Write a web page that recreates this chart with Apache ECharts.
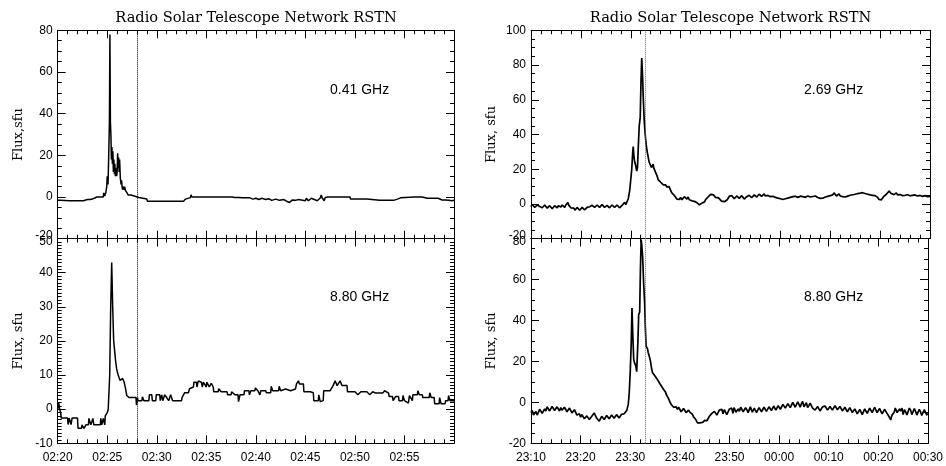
<!DOCTYPE html>
<html><head><meta charset="utf-8">
<script src="https://cdn.jsdelivr.net/npm/echarts/dist/echarts.min.js"></script>
<style>html,body{margin:0;padding:0;background:#fff}#c{width:946px;height:466px}</style>
</head><body><div id="c"></div>
<script>
// ---- DATA (time in minutes from panel start, flux in sfu) ----
const leftStart = 2 * 60 + 20;   // 02:20
const rightStart = 23 * 60 + 10; // 23:10
const leftMarker = 8;            // 02:28
const rightMarker = 23;          // 23:33
const titleText = 'Radio Solar Telescope Network RSTN';
const freqLabels = ['0.41 GHz', '8.80 GHz', '2.69 GHz', '8.80 GHz'];
const yNames = ['Flux,sfu', 'Flux, sfu', 'Flux, sfu', 'Flux, sfu'];

const flux041 = [
[0,-1.5],[0.3,-1.5],[0.35,-0.8],[0.5,-1.8],[1.2,-1.8],[1.25,-1.2],[1.4,-1.8],[2.6,-1.8],[2.65,-1.2],[2.8,-1.8],
[3.0,-1.2],[3.3,-1.2],[3.35,-0.6],[3.5,-1.2],[3.7,-0.6],[3.9,-0.6],[3.95,0],[4.3,0],[4.35,-0.6],[4.5,0],
[4.6,0],[4.65,2],[4.75,0.5],[4.85,2],[4.95,5],[5.0,10],[5.08,6],[5.15,20],[5.22,36],[5.27,78],
[5.32,36],[5.37,30],[5.42,18],[5.47,24],[5.52,16],[5.57,22],[5.62,12],[5.67,18],[5.72,11],[5.77,16],
[5.82,10],[5.9,14],[5.95,10],[6.0,12],[6.05,21],[6.1,14],[6.15,19],[6.2,12],[6.25,18],[6.32,9],
[6.4,6],[6.45,8],[6.5,5],[6.55,3.5],[6.6,5],[6.7,3.5],[6.75,5],[6.85,3],[7.0,2],[7.1,1],
[7.4,1],[7.45,0.4],[7.8,0.4],[7.85,-0.2],[8.2,-0.2],[8.25,-1],[9.0,-1],[9.05,-2],[9.2,-1.5],[9.35,-2],
[12.7,-2],[12.75,-1.2],[12.9,-1],[13.0,-0.3],[13.4,-0.3],[13.45,1],[13.55,0],[15.0,0],[15.05,0.6],[15.15,0],
[15.5,0],[15.55,0.6],[15.65,0],[17.6,0],[17.65,-0.8],[17.8,-0.8],[17.85,-0.2],[18.3,-0.2],[18.35,-1],[18.6,-0.4],
[19.0,-0.4],[19.05,-1],[19.4,-0.4],[19.7,-1],[20.0,-0.6],[20.3,-1.2],[20.6,-0.6],[21.0,-1.2],[21.3,-0.8],[21.6,-1.6],
[22.0,-1],[22.4,-1.6],[22.8,-1.2],[23.1,-2],[23.4,-2.6],[23.7,-1.4],[24.0,-1.6],[24.3,-1.2],[24.5,-1.8],[25.0,-1.8],
[25.1,-0.6],[25.3,-1.8],[25.6,-0.6],[25.8,-0.6],[26.2,-1.8],[26.5,-0.5],[26.6,1],[26.7,-0.5],[26.9,-1.8],[27.0,-0.2],
[27.3,0],[28.0,0],[28.2,0.6],[28.3,0],[29.5,0],[29.55,-1],[30.3,-1],[30.35,-0.5],[30.5,-1],[31.2,-1],
[31.25,-1.6],[32.5,-1.6],[32.55,-1],[32.8,-1.6],[33.9,-1.6],[33.95,-1],[34.3,-1],[34.35,-0.4],[34.6,-0.4],[34.65,0],
[36.0,0],[36.05,0.5],[36.2,0],[36.8,0],[36.85,-0.6],[37.3,-0.6],[37.35,0],[37.8,-0.6],[38.4,-0.6],[38.45,-1.4],
[38.8,-1.4],[38.85,-0.6],[39.1,-1.4],[39.5,-1.6],[39.55,-1],[39.8,-1.8],[40,-1.6]
];

const flux880a = [
[0.0,0],[0.1,2],[0.2,0],[0.3,-1],[0.35,-2.6],[1.0,-2.6],[1.05,-4.5],[1.15,-2.6],[1.3,-2.6],[1.35,-4.5],
[1.45,-2.6],[2.0,-2.6],[2.05,-5.6],[2.4,-5.6],[2.45,-4.6],[2.6,-4.6],[2.65,-5.6],[2.8,-5.6],[2.85,-4.6],[3.1,-4.6],
[3.15,-2.7],[3.3,-2.7],[3.35,-4.6],[3.5,-4.6],[3.55,-2.7],[3.65,-4.6],[4.3,-4.6],[4.35,-2.7],[4.45,-4.6],[4.6,-2.7],
[4.75,-4.6],[4.8,-2],[4.9,-1.5],[5.0,-1],[5.1,0],[5.25,10],[5.35,30],[5.45,43],[5.55,30],[5.65,20],
[5.75,17],[5.85,14],[5.95,11.8],[6.1,10],[6.3,8.4],[6.5,8],[6.55,9],[6.7,8],[6.85,6],[6.97,4],
[7.2,3.4],[7.9,3.4],[7.95,1.2],[8.05,3.4],[8.1,2.5],[8.5,2.5],[8.55,3.6],[8.7,2.5],[9.2,2.5],[9.25,4.2],
[9.5,4.2],[9.55,2.5],[9.9,2.5],[9.95,4.2],[10.3,4.2],[10.35,2.5],[10.5,4.2],[10.6,2.5],[10.8,4.2],[11.0,3.4],
[11.2,2.5],[11.4,4.2],[11.6,2.5],[12.5,2.5],[12.55,3.4],[12.8,4.8],[13.2,4.8],[13.3,6],[13.7,6.5],[13.75,7.9],
[14.0,7.9],[14.05,6.5],[14.2,8.3],[14.5,7.9],[14.6,6.5],[14.7,7.9],[15.0,6.5],[15.05,7.9],[15.3,6.5],[15.5,7.6],
[15.7,6.5],[15.75,5.1],[16.2,5.1],[16.25,6],[16.5,5.1],[17.1,5.1],[17.15,4.2],[17.5,4.2],[17.55,5.1],[17.9,4.2],
[18.2,4.2],[18.25,2.2],[18.4,4.2],[18.8,4.2],[18.85,5.4],[19.3,5.4],[19.35,4.2],[19.5,5.4],[19.9,5.4],[19.95,6.2],
[20.2,5.4],[20.4,4.2],[20.5,5.4],[21.0,5.4],[21.05,4.8],[21.5,4.8],[21.55,6.7],[21.7,5.4],[22.3,5.4],[22.35,6.7],
[22.5,5.4],[23.0,5.9],[23.5,5.4],[24.0,5.9],[24.1,7.4],[24.3,8.3],[24.4,7.4],[24.8,7.4],[24.85,5.1],[25.5,5.1],
[25.8,4.8],[25.85,2.5],[26.3,2.5],[26.35,4.2],[26.5,2.2],[26.8,2.5],[26.85,5.4],[27.5,5.4],[27.8,6.9],[28.0,8.3],
[28.2,6.9],[28.5,8.3],[28.7,6.9],[29.2,6.9],[29.25,5.1],[30.0,5.1],[30.3,4.2],[30.6,5.1],[31.2,5.1],[31.5,4.2],
[31.8,5.1],[32.1,4.7],[32.8,4.7],[33.0,5.4],[33.4,4.7],[33.45,3.7],[33.8,3.7],[33.85,2.5],[34.1,3.7],[34.4,3.7],
[34.45,2.5],[34.8,2.5],[34.85,4],[35.0,2.5],[35.4,1.8],[35.5,4],[35.8,2.5],[35.85,4.2],[36.3,4.2],[36.35,5.4],
[36.5,4.2],[36.8,4.2],[36.85,3.4],[37.5,3.4],[37.55,4.8],[37.7,3.4],[38.0,3.4],[38.05,1.6],[38.5,1.6],[38.55,3.4],
[38.7,1.6],[39.1,1.6],[39.15,2.5],[39.4,2.5],[39.45,4],[39.6,2.5],[40,2.5]
];

const flux269 = [
[0,-1.5],[0.25,-0.2],[0.5,-0.5],[0.75,-2],[1.0,-1.8],[1.25,-0.6],[1.5,0.5],[1.75,-1.4],[2.0,-1],[2.25,-2.2],
[2.5,-1.5],[2.75,-0.6],[3.0,-0.8],[3.25,-2.4],[3.5,-2],[3.75,-1],[4.0,-1.2],[4.25,-2.8],[4.5,-2.3],[4.75,-1],
[5.0,-1.5],[5.25,-2.2],[5.5,-1],[5.75,-2],[6.0,-1.8],[6.25,-0.6],[6.5,-1.2],[6.75,-2],[7.0,-0.5],[7.2,-1.2],
[7.4,0.8],[7.6,-0.8],[7.8,-1.5],[8.0,-2.2],[8.2,-3],[8.4,-2],[8.6,-2.4],[8.8,-3.6],[9.0,-3.2],[9.25,-2],
[9.5,-2.5],[9.75,-3.6],[10.0,-3],[10.25,-2],[10.5,-2.2],[10.75,-3.4],[11.0,-3.1],[11.25,-2],[11.5,-2.6],[11.75,-1.6],
[12.0,-2],[12.25,-0.8],[12.5,-1.2],[12.75,-2],[13.0,-1.6],[13.25,-0.6],[13.5,-0.9],[13.75,-2],[14.0,-1.4],[14.25,-0.4],
[14.5,-1],[14.75,-2],[15.0,-1.7],[15.25,-0.8],[15.5,-1.1],[15.75,-2.2],[16.0,-1.5],[16.25,-0.6],[16.5,-0.8],[16.75,-2],
[17.0,-1.6],[17.25,-0.6],[17.5,-1.2],[17.75,-2.2],[18.0,-1.8],[18.25,-0.8],[18.5,-0.5],[18.8,1],[19.0,-0.4],[19.2,0],
[19.5,3],[19.8,8],[20.0,14],[20.2,20],[20.4,30],[20.5,33],[20.65,27],[20.8,24],[21.0,22],[21.2,19],
[21.35,21],[21.5,32],[21.7,45],[21.9,50],[22.05,70],[22.2,84],[22.35,75],[22.5,62],[22.7,48],[22.9,40],
[23.1,34],[23.3,30],[23.5,27],[23.7,24],[23.85,25],[24.0,24],[24.15,21],[24.3,22],[24.5,23],[24.65,20.5],
[24.8,20],[25.0,18],[25.15,17],[25.3,16],[25.5,14],[25.7,13],[25.85,13.5],[26.0,12.5],[26.2,11.5],[26.4,12],
[26.55,11],[26.7,12],[26.85,10.5],[27.0,11],[27.2,9.8],[27.4,10.5],[27.55,9.2],[27.7,10],[27.85,8.8],[28.0,8],
[28.2,6.5],[28.4,5.5],[28.55,6],[28.7,5],[28.85,4.2],[29.0,4],[29.25,2.8],[29.5,3.5],[29.75,2.6],[30.0,3.8],
[30.25,2.4],[30.5,3],[30.75,4.2],[31.0,3.6],[31.25,2.8],[31.5,4],[31.75,2.4],[32.0,3],[32.25,1.8],[32.5,2.7],
[32.75,1.5],[33.0,2.3],[33.25,0.8],[33.5,1.5],[33.75,-0.5],[34.0,0],[34.15,-1],[34.3,0.5],[34.45,0],[34.6,1.5],
[34.8,1.2],[35.0,2.5],[35.25,2.8],[35.5,4],[35.75,4.6],[36.0,5.5],[36.2,4.8],[36.4,6],[36.6,5.2],[36.8,5],
[37.0,3.8],[37.2,4.2],[37.4,3.2],[37.6,3.5],[37.8,2.4],[38.0,2.7],[38.2,1.6],[38.4,2],[38.6,0.8],[38.8,1.3],
[39.0,1.6],[39.2,2.2],[39.4,2.6],[39.6,3.3],[39.8,4.6],[40.0,3.8],[40.25,4.8],[40.5,4],[40.75,3],[41.0,3.4],
[41.25,4.6],[41.5,4.3],[41.75,3.2],[42.0,3.6],[42.25,4.8],[42.5,4],[42.75,2.8],[43.0,3.3],[43.25,4.2],[43.5,4.2],
[43.75,5],[44.0,4.5],[44.25,3.6],[44.5,4],[44.75,5.2],[45.0,4.8],[45.25,4],[45.5,4.6],[45.75,5.6],[46.0,5],
[46.25,4.4],[46.5,5.2],[46.75,5.8],[47.0,4.6],[47.25,5.4],[47.5,4.9],[47.75,3.8],[48.0,4.2],[48.25,5],[48.5,4.4],
[48.75,3.4],[49.0,3.8],[49.25,4.4],[49.5,3.4],[49.75,2.4],[50.0,3],[50.25,3.6],[50.5,2.6],[50.75,2],[51.0,3],
[51.25,3.8],[51.5,3.4],[51.75,2.6],[52.0,3.8],[52.25,4.6],[52.5,4.2],[52.75,3.4],[53.0,4.4],[53.25,5],[53.5,3.8],
[53.75,3.2],[54.0,4.5],[54.25,5.2],[54.5,4.2],[54.75,3.2],[55.0,3.8],[55.25,4.6],[55.5,4.6],[55.75,3.6],[56.0,4],
[56.25,5],[56.5,4.3],[56.75,3.4],[57.0,4.6],[57.25,4.8],[57.5,3.7],[57.75,2.6],[58.0,3.2],[58.25,2.6],[58.5,3.3],
[58.75,4.2],[59.0,4],[59.25,3.2],[59.5,4.4],[59.75,5.4],[60.0,4.8],[60.25,4.2],[60.5,5.2],[60.75,6.4],[61.0,5.6],
[61.25,4.6],[61.5,5],[61.75,5.8],[62.0,4.6],[62.25,3.8],[62.5,4.2],[62.75,5],[63.0,4],[63.25,3.2],[63.5,4.5],
[63.75,5.6],[64.0,5],[64.25,4.4],[64.5,5.3],[64.75,6.2],[65.0,5.6],[65.25,4.8],[65.5,6],[65.75,6.8],[66.0,6.2],
[66.25,5.4],[66.5,6.5],[66.75,7],[67.0,6],[67.25,5.2],[67.5,5.6],[67.75,6.2],[68.0,5.2],[68.25,4.4],[68.5,5],
[68.75,5.6],[69.0,4.8],[69.25,4.2],[69.5,3.8],[69.75,2.6],[70.0,2.8],[70.25,2.4],[70.5,3.5],[70.75,4.4],[71.0,5],
[71.25,5.6],[71.5,6.2],[71.65,5.4],[71.8,7.4],[72.0,6.4],[72.2,6],[72.4,7],[72.6,6.5],[72.8,5.4],[73.0,5.6],
[73.25,6.4],[73.5,5.2],[73.75,4.6],[74.0,5.4],[74.25,6],[74.5,4.8],[74.75,4.2],[75.0,5],[75.25,5.8],[75.5,5.3],
[75.75,4.4],[76.0,4.7],[76.25,5.6],[76.5,5],[76.75,4.2],[77.0,5.2],[77.25,5.8],[77.5,4.6],[77.75,4],[78.0,4.9],
[78.25,5.4],[78.5,4.4],[78.75,3.6],[79.0,4.8],[79.25,5.2],[79.5,4.2],[79.75,3.6],[80.0,4.4]
];

const flux880b = [
[0,-5],[0.25,-4],[0.5,-6.2],[0.75,-5.4],[1.0,-4.5],[1.25,-6.2],[1.5,-5.5],[1.75,-3.4],[2.0,-3.8],[2.25,-5.4],
[2.5,-5],[2.75,-3.2],[3.0,-4.2],[3.25,-2.2],[3.5,-2.8],[3.75,-4.2],[4.0,-3.5],[4.25,-2],[4.5,-2.5],[4.75,-4],
[5.0,-3.8],[5.25,-2.2],[5.5,-3],[5.75,-4.2],[6.0,-2.6],[6.25,-3.8],[6.5,-3.4],[6.75,-2.4],[7.0,-3],[7.25,-4.6],
[7.5,-4],[7.75,-2.8],[8.0,-3.6],[8.25,-5.2],[8.5,-5],[8.75,-3.6],[9.0,-4.4],[9.25,-6.2],[9.5,-6.5],[9.75,-5.6],
[10.0,-7.2],[10.25,-6],[10.5,-6.8],[10.75,-8],[11.0,-7.8],[11.25,-6.6],[11.5,-7],[11.75,-8.4],[12.0,-8.2],[12.25,-6.8],
[12.5,-7.4],[12.75,-5.2],[13.0,-6],[13.25,-7.8],[13.5,-7.6],[13.75,-9.2],[14.0,-8.6],[14.25,-6.8],[14.5,-7.2],[14.75,-8.4],
[15.0,-7.8],[15.25,-6.4],[15.5,-6.8],[15.75,-8],[16.0,-7.5],[16.25,-6.2],[16.5,-6.6],[16.75,-7.8],[17.0,-7.2],[17.25,-6],
[17.5,-6.4],[17.75,-7.6],[18.0,-7],[18.25,-5.8],[18.5,-6.5],[18.75,-5.6],[19.0,-5],[19.3,-4],[19.6,-1],[19.8,4.7],
[20.0,15],[20.2,29],[20.35,46],[20.5,34],[20.7,21],[20.9,19],[21.1,18],[21.3,15],[21.4,14.4],[21.55,30],
[21.7,43],[21.9,44],[22.05,65],[22.2,79.5],[22.35,76],[22.5,71],[22.7,58],[22.9,48.6],[23.05,36],[23.2,27.5],
[23.35,27],[23.5,26],[23.6,24.5],[23.7,24],[23.8,22.8],[23.9,23.4],[24.05,20.5],[24.2,18],[24.35,16],[24.5,14.4],
[24.65,15.2],[24.8,14],[24.95,13],[25.1,12.5],[25.3,11.8],[25.5,11.2],[25.65,10.4],[25.8,10],[25.95,9.2],[26.1,8.5],
[26.3,8.8],[26.5,7.1],[26.65,6.6],[26.8,6],[26.95,5.2],[27.1,5],[27.3,3.6],[27.5,3.1],[27.65,2.2],[27.8,1.5],
[27.95,0.4],[28.1,0],[28.3,-1.2],[28.5,-1.8],[28.75,-2.4],[29.0,-2.9],[29.25,-2.2],[29.5,-3.4],[29.75,-2.4],[30.0,-3],
[30.25,-4.6],[30.5,-4],[30.75,-3],[31.0,-3.6],[31.25,-5],[31.5,-4.4],[31.75,-3.8],[32.0,-4.8],[32.25,-5.4],[32.5,-5.8],
[32.75,-7],[33.0,-7.5],[33.2,-8.4],[33.4,-9],[33.55,-10],[33.7,-10.2],[33.85,-9.4],[34.0,-10],[34.2,-10.4],[34.4,-9.2],
[34.6,-9.8],[34.8,-10],[35.0,-8.8],[35.2,-8.6],[35.45,-9],[35.7,-8.2],[35.95,-6.8],[36.2,-7],[36.45,-5.4],[36.7,-6],
[36.95,-4.4],[37.2,-5.2],[37.45,-6.2],[37.7,-5.4],[37.95,-3.8],[38.2,-4.6],[38.45,-3.4],[38.7,-5.6],[38.95,-3.6],[39.2,-4.4],
[39.45,-6],[39.7,-5.2],[39.95,-3.4],[40.2,-4.2],[40.45,-2.8],[40.7,-5.4],[40.9,-2.6],[41.1,-3.6],[41.3,-4.8],[41.5,-5.6],
[41.75,-3.2],[42.0,-4.4],[42.25,-2.4],[42.5,-3.4],[42.75,-4.6],[43.0,-5],[43.25,-2.6],[43.5,-3.6],[43.75,-5],[44.0,-4.2],
[44.2,-2.2],[44.4,-3],[44.6,-4.8],[44.8,-4.6],[45.0,-2.8],[45.2,-3.8],[45.45,-5],[45.7,-4.4],[45.95,-2.6],[46.2,-3.2],
[46.45,-4.6],[46.7,-4],[46.95,-2.4],[47.2,-3.4],[47.45,-4.4],[47.7,-3.8],[47.95,-2.2],[48.2,-2.8],[48.45,-4],[48.7,-3.4],
[48.9,-1.8],[49.1,-2.6],[49.35,-3.8],[49.6,-3.2],[49.8,-1.6],[50.0,-2.2],[50.25,-3.4],[50.5,-2.8],[50.75,-1],[51.0,-1.6],
[51.25,-2.8],[51.5,-2.4],[51.75,-0.6],[52.0,-1.2],[52.25,-2.6],[52.5,-2],[52.75,0],[53.0,-0.4],[53.25,-2.4],[53.5,-1.8],
[53.75,0.2],[54.0,-1],[54.25,-2.4],[54.5,-0.6],[54.75,0.4],[55.0,-2.2],[55.25,-1.2],[55.5,-0.2],[55.75,-2.6],[56.0,-1.6],
[56.25,-0.4],[56.5,-1],[56.75,-2.8],[57.0,-2.2],[57.25,-3.8],[57.5,-3.4],[57.75,-2],[58.0,-2.6],[58.25,-4.2],[58.5,-3.8],
[58.75,-2.2],[59.0,-3],[59.25,-1.8],[59.5,-2.4],[59.75,-3.8],[60.0,-3.4],[60.25,-2],[60.5,-2.6],[60.75,-3.8],[61.0,-3.2],
[61.25,-1.6],[61.5,-2.2],[61.75,-3.6],[62.0,-3.2],[62.25,-2],[62.5,-2.8],[62.75,-4.2],[63.0,-3.6],[63.25,-2.4],[63.5,-3],
[63.75,-4.6],[64.0,-4],[64.25,-2.6],[64.5,-3.4],[64.75,-5],[65.0,-4.6],[65.25,-3.2],[65.5,-4],[65.75,-5.6],[66.0,-5.2],
[66.25,-3.4],[66.5,-4.2],[66.75,-6],[67.0,-5.4],[67.25,-3.2],[67.5,-3.8],[67.75,-5.4],[68.0,-4.8],[68.25,-2.8],[68.5,-3.6],
[68.75,-5],[69.0,-4.4],[69.25,-2.4],[69.5,-3],[69.75,-5],[70.0,-4.6],[70.25,-3],[70.5,-3.8],[70.75,-5.6],[71.0,-5],
[71.25,-3.4],[71.5,-4.4],[71.75,-5.4],[72.0,-6.2],[72.25,-7.4],[72.5,-8.6],[72.65,-7],[72.8,-6],[73.0,-5.4],[73.2,-4.8],
[73.4,-2.8],[73.6,-3.4],[73.8,-5],[74.0,-5.6],[74.25,-3.2],[74.5,-4.2],[74.75,-2.8],[75.0,-6],[75.25,-3.6],[75.5,-4.6],
[75.75,-6.2],[76.0,-5.4],[76.25,-2.8],[76.5,-3.8],[76.75,-6],[77.0,-5.2],[77.25,-3],[77.5,-4.4],[77.75,-6.2],[78.0,-5.8],
[78.25,-3.4],[78.5,-4.6],[78.75,-6.4],[79.0,-6],[79.25,-3.6],[79.5,-4.8],[79.75,-6.2],[80.0,-5.4]
];

// ---- CHART ----
const chart = echarts.init(document.getElementById('c'));
const pad = n => (n < 10 ? '0' : '') + n;
const hhmm = (base, v) => { const t = ((base + Math.round(v)) % 1440 + 1440) % 1440; return pad(Math.floor(t / 60)) + ':' + pad(t % 60); };
const labelFont = { color: '#000', fontFamily: 'Liberation Sans, Arial, sans-serif', fontSize: 12 };
const serif = 'DejaVu Serif, serif';

const panels = [
  { grid: { left: 57.7, top: 30.3, width: 396.3, height: 208.4 }, xmax: 40, xint: 5, xminor: 5, ymin: -20, ymax: 80, yint: 20, yminor: 4, base: leftStart, xlabels: false, hideLast: true, upper: true, data: flux041, marker: leftMarker, mcolor: '#000', lw: 1.5 },
  { grid: { left: 57.7, top: 238.5, width: 396.3, height: 204.8 }, xmax: 40, xint: 5, xminor: 5, ymin: -10, ymax: 50, yint: 10, yminor: 10, base: leftStart, xlabels: true, hideLast: true, upper: false, data: flux880a, marker: leftMarker, mcolor: '#000', lw: 1.5 },
  { grid: { left: 531, top: 30.3, width: 399, height: 208.4 }, xmax: 80, xint: 10, xminor: 5, ymin: -20, ymax: 100, yint: 20, yminor: 4, base: rightStart, xlabels: false, hideLast: false, upper: true, data: flux269, marker: rightMarker, mcolor: '#666', lw: 1.7 },
  { grid: { left: 531, top: 238.5, width: 399, height: 204.8 }, xmax: 80, xint: 10, xminor: 5, ymin: -20, ymax: 80, yint: 20, yminor: 4, base: rightStart, xlabels: true, hideLast: false, upper: false, data: flux880b, marker: rightMarker, mcolor: '#666', lw: 1.7 }
];

const grid = [], xAxis = [], yAxis = [], series = [], graphic = [];
const tickStyle = { color: '#000', width: 1 };
panels.forEach((p, i) => {
  grid.push(p.grid);
  ['bottom', 'top'].forEach((pos, k) => {
    xAxis.push({
      type: 'value', gridIndex: i, position: pos, min: 0, max: p.xmax, interval: p.xint,
      axisLine: { show: true, onZero: false, lineStyle: tickStyle },
      axisTick: { show: true, inside: true, length: 8, lineStyle: tickStyle },
      minorTick: { show: true, splitNumber: p.xminor, length: 4, lineStyle: tickStyle },
      splitLine: { show: false },
      axisLabel: {
        show: k === 0 && p.xlabels, margin: 8, ...labelFont,
        showMinLabel: true, showMaxLabel: true,
        formatter: v => (p.hideLast && v === p.xmax) ? '' : hhmm(p.base, v)
      }
    });
  });
  ['left', 'right'].forEach((pos, k) => {
    yAxis.push({
      type: 'value', gridIndex: i, position: pos, min: p.ymin, max: p.ymax, interval: p.yint,
      name: k === 0 ? yNames[i] : '', nameLocation: 'middle', nameGap: 33,
      nameTextStyle: { fontFamily: serif, fontSize: 13, color: '#000' },
      axisLine: { show: true, onZero: false, lineStyle: tickStyle },
      axisTick: { show: true, inside: true, length: 8, lineStyle: tickStyle },
      minorTick: { show: true, splitNumber: p.yminor, length: 4, lineStyle: tickStyle },
      splitLine: { show: false },
      axisLabel: {
        show: k === 0, margin: 5, ...labelFont, showMinLabel: true, showMaxLabel: true,
        formatter: v => (p.upper && v === p.ymin) ? '{up|' + v + '}' : (!p.upper && v === p.ymax) ? '{dn|' + v + '}' : String(v),
        rich: {
          up: { ...labelFont, padding: [0, 0, 7, 0] },
          dn: { ...labelFont, padding: [7, 0, 0, 0] }
        }
      }
    });
  });
  series.push({
    type: 'line', xAxisIndex: i * 2, yAxisIndex: i * 2, data: p.data,
    showSymbol: false, symbol: 'none', lineStyle: { color: '#000', width: p.lw },
    markLine: { silent: true, symbol: 'none', label: { show: false },
      lineStyle: { color: p.mcolor, type: 'dotted', width: 1 }, data: [{ xAxis: p.marker }] }
  });
});

graphic.push({ type: 'text', x: 256, y: 18, style: { text: titleText, font: '14.6px ' + serif, fill: '#000', align: 'center', verticalAlign: 'middle' } });
graphic.push({ type: 'text', x: 730.5, y: 18, style: { text: titleText, font: '14.6px ' + serif, fill: '#000', align: 'center', verticalAlign: 'middle' } });
const freqPos = [[330, 90], [330, 297], [804, 90], [804, 297]];
freqLabels.forEach((t, i) => {
  graphic.push({ type: 'text', x: freqPos[i][0], y: freqPos[i][1], style: { text: t, font: '14px Liberation Sans, Arial, sans-serif', fill: '#000', align: 'left', verticalAlign: 'middle' } });
});

chart.setOption({ animation: false, backgroundColor: '#fff', grid, xAxis, yAxis, series, graphic });
</script></body></html>
